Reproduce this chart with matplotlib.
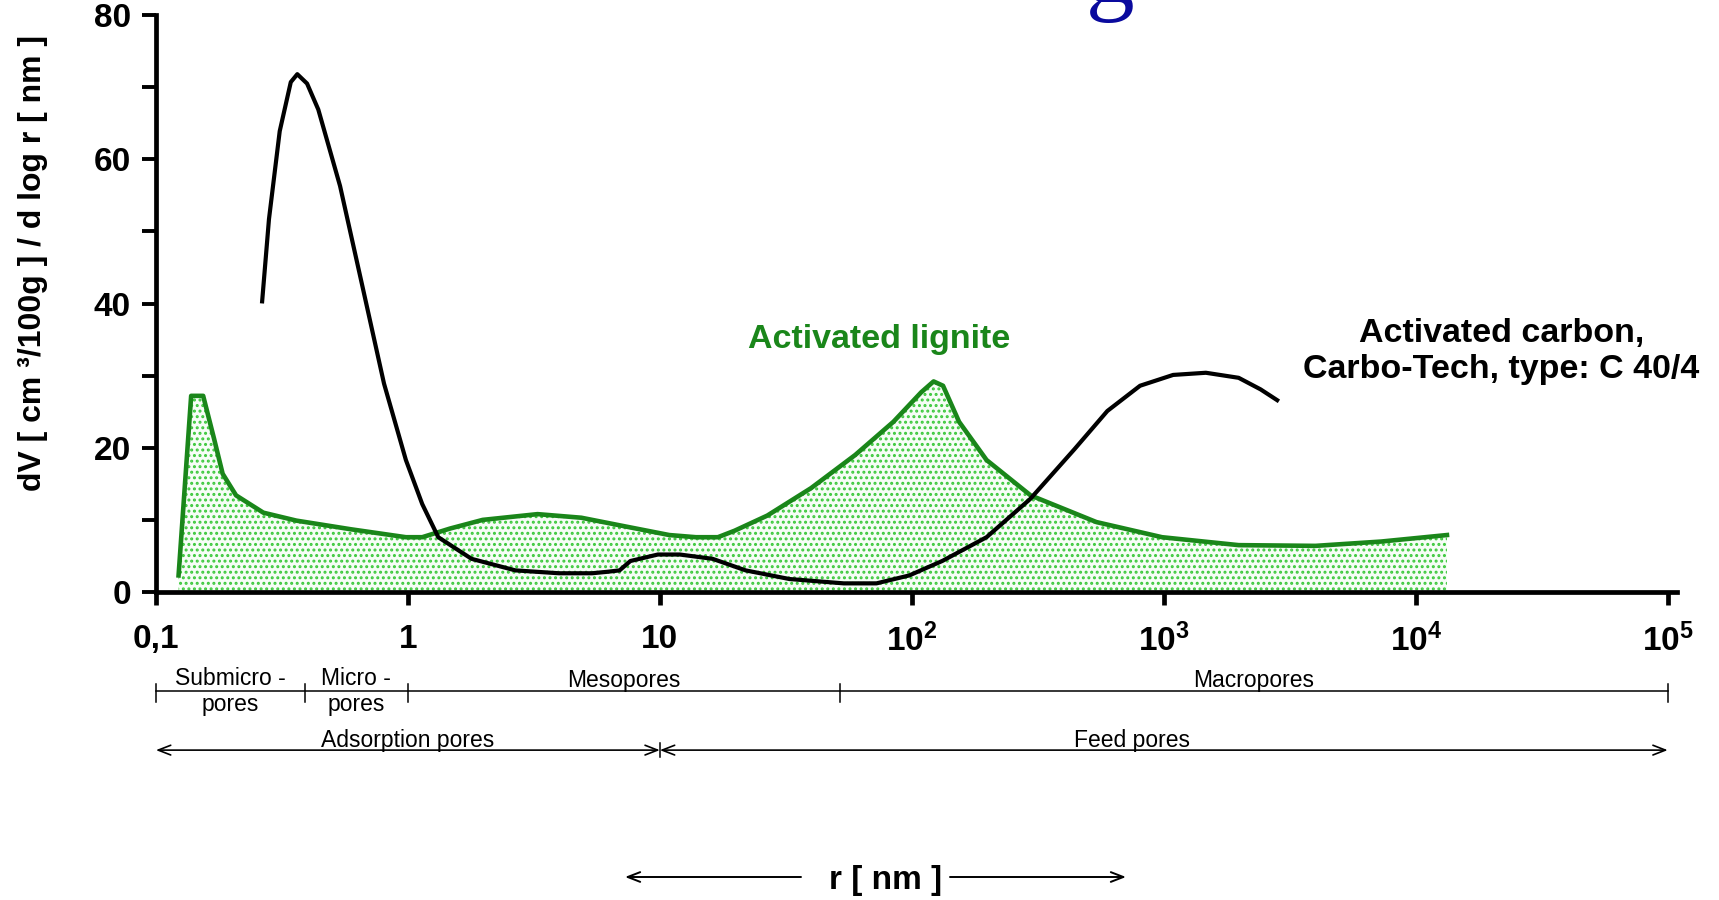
import numpy as np
import matplotlib
matplotlib.use('Agg')
import matplotlib.pyplot as plt
from matplotlib.transforms import blended_transform_factory

plt.rcParams['font.family'] = ['Liberation Sans', 'DejaVu Sans']
plt.rcParams['mathtext.fontset'] = 'custom'
plt.rcParams['mathtext.bf'] = 'Liberation Sans:bold'
plt.rcParams['mathtext.rm'] = 'Liberation Sans:bold'
plt.rcParams['hatch.linewidth'] = 1.4

# activated carbon, Carbo-Tech C 40/4 : r [nm] and dV/dlog r
carbon_r = [0.264, 0.281, 0.310, 0.343, 0.364, 0.398, 0.441, 0.538, 0.658, 0.804,
            0.982, 1.14, 1.32, 1.79, 2.67, 3.98, 5.38, 6.17, 6.92, 7.64,
            9.82, 12.0, 16.2, 21.9, 32.7, 53.7, 72.4, 97.7, 132, 198,
            295, 442, 597, 805, 1089, 1469, 1982, 2421, 2818]
carbon_v = [40.3, 51.7, 63.9, 70.7, 71.8, 70.5, 66.9, 56.3, 42.6, 28.9,
            18.3, 12.2, 7.6, 4.6, 3.0, 2.6, 2.6, 2.8, 3.0, 4.3,
            5.2, 5.2, 4.6, 3.0, 1.8, 1.2, 1.2, 2.3, 4.3, 7.6,
            12.9, 19.8, 25.1, 28.6, 30.1, 30.4, 29.7, 28.1, 26.6]

# activated lignite
lignite_r = [0.123, 0.138, 0.154, 0.170, 0.184, 0.208, 0.267, 0.361, 0.594, 0.982,
             1.14, 1.47, 1.98, 3.27, 4.88, 7.28, 10.9, 13.9, 17.0, 19.8,
             26.7, 39.8, 59.6, 84.5, 109, 122, 133, 154, 198, 296,
             540, 984, 1982, 4000, 7295, 13300]
lignite_v = [2.3, 27.2, 27.2, 21.3, 16.4, 13.4, 11.0, 9.9, 8.7, 7.6,
             7.6, 8.8, 10.0, 10.8, 10.3, 9.1, 7.9, 7.6, 7.6, 8.5,
             10.6, 14.4, 19.0, 23.6, 27.7, 29.2, 28.6, 23.6, 18.3, 13.4,
             9.7, 7.6, 6.5, 6.4, 7.0, 7.9]

x_ticks = [0.1, 1, 10, 100, 1e3, 1e4, 1e5]
x_labels = ['0,1', '1', '10', r'$\mathbf{10^2}$', r'$\mathbf{10^3}$',
            r'$\mathbf{10^4}$', r'$\mathbf{10^5}$']

# pore classes (boundaries in nm)
class_bounds = [0.1, 0.39, 1, 52, 1e5]
class_names = ['Submicro -\npores', 'Micro -\npores', 'Mesopores', 'Macropores']
group_bounds = [0.1, 10, 1e5]
group_names = ['Adsorption pores', 'Feed pores']

green = '#1a861a'

fig = plt.figure(figsize=(17.19, 9.0), dpi=100)
ax = fig.add_axes([0.0907, 0.3422, 0.8849, 0.6411])

ax.fill_between(lignite_r, lignite_v, 0, facecolor='#f6fdf6', edgecolor='#3cc83c',
                hatch='...', linewidth=0, zorder=1)
ax.plot(lignite_r, lignite_v, color=green, lw=3.3, zorder=3, solid_joinstyle='round')
ax.plot(carbon_r, carbon_v, color='black', lw=3.0, zorder=4, solid_joinstyle='round')

ax.set_xscale('log')
ax.set_xlim(0.1, 10 ** 5.037)
ax.set_ylim(0, 80)
ax.set_xticks(x_ticks)
ax.set_xticklabels(x_labels)
ax.xaxis.set_minor_locator(plt.NullLocator())
ax.set_yticks([0, 20, 40, 60, 80])
ax.set_yticks([10, 30, 50, 70], minor=True)

for s in ['top', 'right']:
    ax.spines[s].set_visible(False)
for s in ['left', 'bottom']:
    ax.spines[s].set_linewidth(3.4)
ax.tick_params(axis='x', which='major', direction='out', length=9, width=3.4,
               labelsize=24, pad=14)
ax.tick_params(axis='y', which='both', direction='out', length=10, width=2.8,
               labelsize=24, pad=8)
for lab in ax.get_xticklabels() + ax.get_yticklabels():
    lab.set_fontweight('bold')

ax.set_ylabel('dV [ cm \u00b3/100g ] / d log r [ nm ]', fontsize=23,
              fontweight='bold')
ax.yaxis.set_label_coords(-0.071, 0.57)

ax.text(74, 35.0, 'Activated lignite', color=green, fontsize=24.5,
        fontweight='bold', ha='center', va='center')
ax.text(21900, 33.3, 'Activated carbon,\nCarbo-Tech, type: C 40/4', color='black',
        fontsize=24.5, fontweight='bold', ha='center', va='center',
        multialignment='center', linespacing=1.2)

# pore class rows below the axis
tr = blended_transform_factory(ax.transData, ax.transAxes)
y1 = -0.172
ax.plot([class_bounds[0], class_bounds[-1]], [y1, y1], transform=tr,
        color='black', lw=1.1, clip_on=False)
for b in class_bounds:
    ax.plot([b, b], [y1 + 0.012, y1 - 0.018], transform=tr, color='black',
            lw=1.1, clip_on=False)
for i, name in enumerate(class_names):
    xc = np.sqrt(class_bounds[i] * class_bounds[i + 1])
    if '\n' in name:
        top, bot = name.split('\n')
        ax.text(xc, -0.150, top, transform=tr, ha='center', va='center', fontsize=16.5)
        ax.text(xc, -0.195, bot, transform=tr, ha='center', va='center', fontsize=16.5)
    else:
        ax.text(xc, -0.154, name, transform=tr, ha='center', va='center', fontsize=16.5)

y2 = -0.274
for i, name in enumerate(group_names):
    ax.annotate('', xy=(group_bounds[i], y2), xytext=(group_bounds[i + 1], y2),
                xycoords=tr, textcoords=tr,
                arrowprops=dict(arrowstyle='<->,head_length=0.9,head_width=0.35',
                                color='black', lw=1.2, shrinkA=0, shrinkB=0))
    xc = np.sqrt(group_bounds[i] * group_bounds[i + 1])
    if i == 1:
        xc = xc * 0.75
    ax.text(xc, y2 + 0.016, name, transform=tr, ha='center', va='center', fontsize=16.5)
ax.plot([10, 10], [y2 + 0.012, y2 - 0.012], transform=tr, color='black', lw=1.1,
        clip_on=False)

# x-axis title with arrows
fig.text(886 / 1719, 1 - 880 / 900, 'r [ nm ]', fontsize=24, fontweight='bold',
         ha='center', va='center')
for x0, x1 in [(801, 625), (950, 1126)]:
    ax.annotate('', xy=(x1 / 1719, 1 - 877 / 900), xytext=(x0 / 1719, 1 - 877 / 900),
                xycoords='figure fraction', textcoords='figure fraction',
                arrowprops=dict(arrowstyle='->,head_length=0.9,head_width=0.35',
                                color='black', lw=1.4, shrinkA=0, shrinkB=0))

# bottom of a cut-off slide title
fig.text(1110 / 1719, 1 - 2 / 900, 'g', fontsize=70, family='Liberation Serif',
         color='#0a0a9e', ha='center', va='baseline')

fig.savefig('out.png', dpi=100)
